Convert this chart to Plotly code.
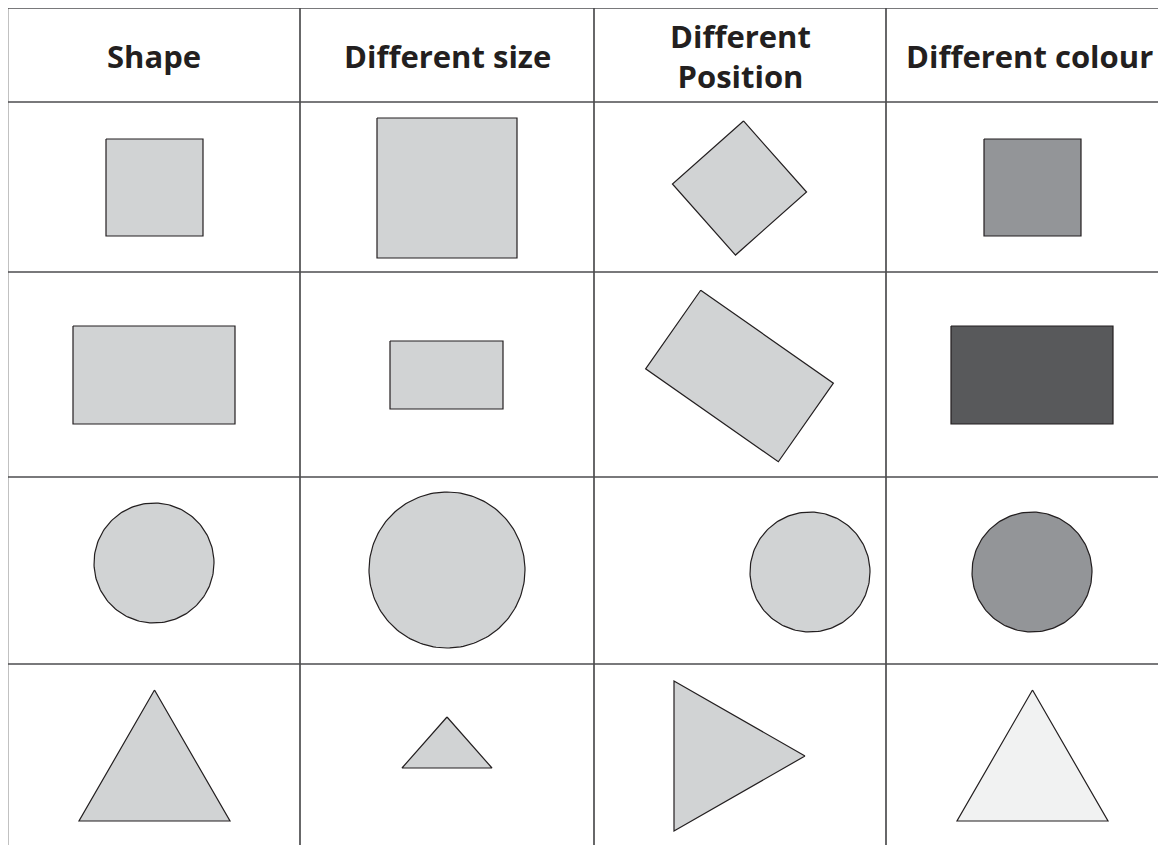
import numpy as np
import plotly.graph_objects as go

# ---- data ----
headers = ["Shape", "Different size", "Different<br>Position", "Different colour"]
col_edges = [7.5, 300, 594, 886, 1200]
row_edges = [8, 102, 272, 477, 664, 900]

LIGHT = "#d1d3d4"
MID = "#939598"
DARK = "#58595b"
PALE = "#f1f2f2"

# per cell: (width, height, rotation_deg, center_x, center_y, fill)
squares = [
    (97, 97, 0, 154.5, 187.5, LIGHT),
    (140, 140, 0, 447, 188, LIGHT),
    (95, 95, 48.4, 739.5, 188, LIGHT),
    (97, 97, 0, 1032.5, 187.5, MID),
]
rects = [
    (162, 98, 0, 154, 375, LIGHT),
    (113, 68, 0, 446.5, 375, LIGHT),
    (162, 96, 35, 739.5, 376, LIGHT),
    (162, 98, 0, 1032, 375, DARK),
]
circles = [
    (120, 120, 0, 154, 563, LIGHT),
    (156, 156, 0, 447, 570, LIGHT),
    (120, 120, 0, 810, 572, LIGHT),
    (120, 120, 0, 1032, 572, MID),
]
triangles = [
    (151, 131, 0, 154.5, 755.5, LIGHT),
    (90, 51, 0, 447, 742.5, LIGHT),
    (150, 131, 90, 739.5, 756, LIGHT),
    (151, 131, 0, 1032.5, 755.5, PALE),
]


def rotate(xs, ys, cx, cy, deg):
    t = np.deg2rad(deg)
    xs = np.asarray(xs, float)
    ys = np.asarray(ys, float)
    rx = xs * np.cos(t) - ys * np.sin(t)
    ry = xs * np.sin(t) + ys * np.cos(t)
    return list(rx + cx), list(ry + cy)


def poly_rect(w, h, rot, cx, cy):
    xs = [-w / 2, w / 2, w / 2, -w / 2, -w / 2]
    ys = [-h / 2, -h / 2, h / 2, h / 2, -h / 2]
    return rotate(xs, ys, cx, cy, rot)


def poly_circle(w, h, rot, cx, cy):
    a = np.linspace(0, 2 * np.pi, 181)
    return list(cx + w / 2 * np.cos(a)), list(cy + h / 2 * np.sin(a))


def poly_tri(w, h, rot, cx, cy):
    xs = [0, w / 2, -w / 2, 0]
    ys = [-h / 2, h / 2, h / 2, -h / 2]
    return rotate(xs, ys, cx, cy, rot)


fig = go.Figure()

for rows, fn in [(squares, poly_rect), (rects, poly_rect), (circles, poly_circle), (triangles, poly_tri)]:
    for (w, h, rot, cx, cy, fill) in rows:
        xs, ys = fn(w, h, rot, cx, cy)
        fig.add_trace(go.Scatter(
            x=xs, y=ys, mode="lines", fill="toself", fillcolor=fill,
            line=dict(color="#231f20", width=1.2), hoverinfo="skip", showlegend=False,
        ))

GRID = "#4d4d4f"
shapes = []
for x in col_edges[:-1]:
    shapes.append(dict(type="line", x0=x, x1=x, y0=row_edges[0], y1=row_edges[-1],
                       line=dict(color=GRID, width=1.7), layer="below"))
for y in row_edges[:-1]:
    shapes.append(dict(type="line", x0=col_edges[0], x1=col_edges[-1], y0=y, y1=y,
                       line=dict(color=GRID, width=1.7), layer="below"))

header_x = [154, 447, 740, 1029]
annotations = []
for i, h in enumerate(headers):
    annotations.append(dict(
        x=header_x[i], y=(row_edges[0] + row_edges[1]) / 2 + 1,
        xref="x", yref="y", text=h, showarrow=False,
        font=dict(family="Open Sans", size=31, color="#231f20", weight="bold"),
        align="center", yanchor="middle", xanchor="center",
    ))

# The page body has an 8px margin, so the plot starts at screen pixel 8.
fig.update_layout(
    width=1158, height=837,
    margin=dict(l=0, r=0, t=0, b=0),
    paper_bgcolor="white", plot_bgcolor="white",
    xaxis=dict(range=[8, 1166], visible=False, fixedrange=True),
    yaxis=dict(range=[845, 8], visible=False, fixedrange=True),
    shapes=shapes, annotations=annotations,
)

fig.write_html("out.html")
